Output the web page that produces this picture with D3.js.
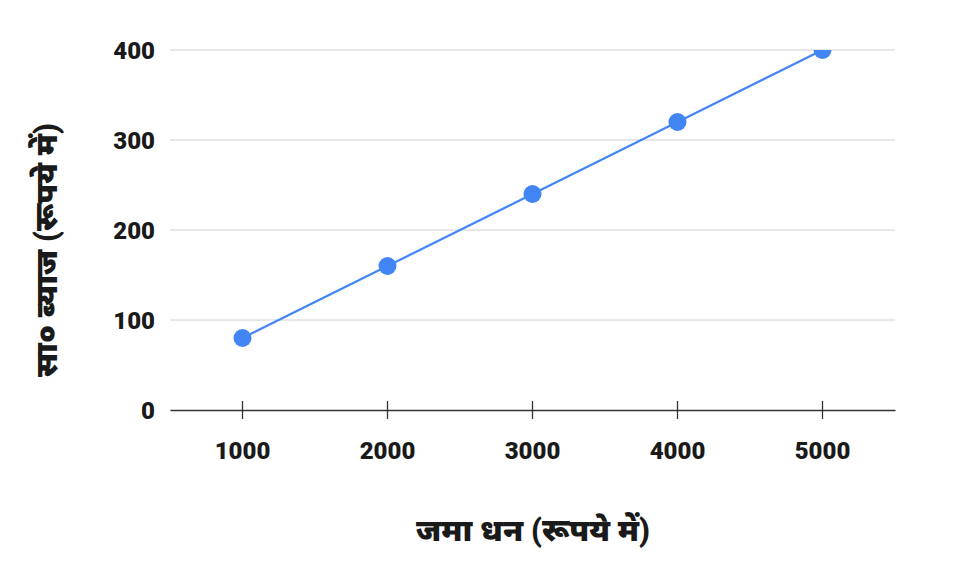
<!DOCTYPE html>
<html>
<head>
<meta charset="utf-8">
<script src="https://cdn.jsdelivr.net/npm/d3@7"></script>
<style>
  body { margin: 0; background: #fff; }
  text { font-family: Roboto, "Noto Sans", "Noto Sans Devanagari", sans-serif; font-weight: 900; fill: #1a1a1a; }
</style>
</head>
<body>
<svg width="972" height="565"></svg>
<script>
// data
let deposits = ["1000", "2000", "3000", "4000", "5000"];
let interest = [80, 160, 240, 320, 400];
let yTicks = [0, 100, 200, 300, 400];
let xTitle = "जमा धन (रूपये में)";
let yTitle = "सा० ब्याज (रूपये में)";

let svg = d3.select("svg");
let margin = { top: 50, right: 77, bottom: 155, left: 170 },
    width = +svg.attr("width") - margin.left - margin.right,
    height = +svg.attr("height") - margin.top - margin.bottom;

let x = d3.scaleBand().domain(deposits).range([0, width]);
let y = d3.scaleLinear().domain([0, 400]).range([height, 0]);

let g = svg.append("g")
    .attr("transform", "translate(" + margin.left + "," + margin.top + ")");

svg.append("defs").append("clipPath").attr("id", "plot")
  .append("rect")
    .attr("x", -20).attr("y", 0)
    .attr("width", width + 40).attr("height", height + 20);

// gridlines
g.append("g")
  .selectAll("line")
  .data(yTicks.filter(d => d > 0))
  .enter().append("line")
    .attr("x1", 0).attr("x2", width)
    .attr("y1", d => y(d)).attr("y2", d => y(d))
    .attr("stroke", "#d0d0d0").attr("stroke-width", 1);

// y labels
let yAxis = g.append("g")
    .call(d3.axisLeft(y).tickValues(yTicks).tickSize(0).tickPadding(15));
yAxis.select(".domain").remove();
yAxis.selectAll("text").style("font-size", "24px").attr("dy", "0.36em");

// x axis
let xAxis = g.append("g")
    .attr("transform", "translate(0," + height + ")")
    .call(d3.axisBottom(x).tickSizeOuter(0).tickSizeInner(9).tickPadding(22));
xAxis.select(".domain").attr("stroke", "#333").attr("stroke-width", 1.3);
xAxis.selectAll(".tick line").attr("stroke", "#333").attr("y1", -9).attr("stroke-width", 1.3);
xAxis.selectAll("text").style("font-size", "24px").attr("dy", "0.75em");

// line + points
let cx = d => x(d) + x.bandwidth() / 2;
let pts = deposits.map((d, i) => [cx(d), y(interest[i])]);

let marks = g.append("g").attr("clip-path", "url(#plot)");
marks.append("path")
    .datum(pts)
    .attr("d", d3.line())
    .attr("fill", "none")
    .attr("stroke", "#4285f4")
    .attr("stroke-width", 2.2);

marks.selectAll("circle")
    .data(pts)
    .enter().append("circle")
    .attr("cx", d => d[0])
    .attr("cy", d => d[1])
    .attr("r", 9)
    .attr("fill", "#4285f4");

// titles
svg.append("text")
    .attr("x", 533)
    .attr("y", 541)
    .attr("text-anchor", "middle")
    .style("font-size", "31px")
    .text(xTitle);

svg.append("text")
    .attr("transform", "translate(57,250) rotate(-90)")
    .attr("text-anchor", "middle")
    .style("font-size", "31px")
    .text(yTitle);
</script>
</body>
</html>
